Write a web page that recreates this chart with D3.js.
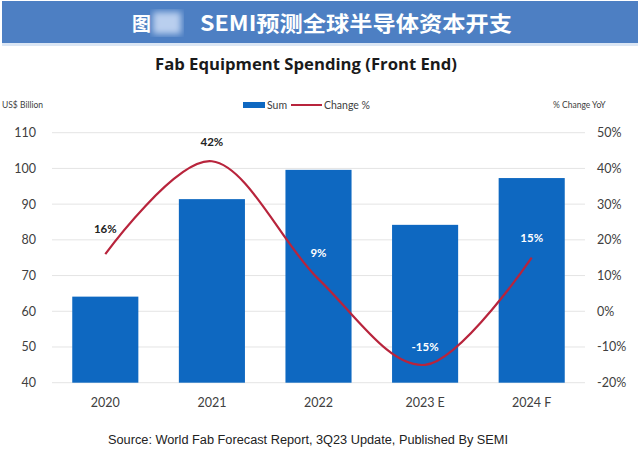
<!DOCTYPE html>
<html>
<head>
<meta charset="utf-8">
<script src="https://cdn.jsdelivr.net/npm/d3@7"></script>
<style>
html,body{margin:0;padding:0;background:#fff;}
svg{display:block;}
</style>
</head>
<body>
<svg id="chart" width="640" height="453"></svg>
<script>
const categories = ["2020", "2021", "2022", "2023 E", "2024 F"];
const spending = [64.1, 91.4, 99.6, 84.2, 97.3];
const changePct = [16, 42, 9, -15, 15];
const changeLabels = ["16%", "42%", "9%", "-15%", "15%"];
const leftTicks = [40, 50, 60, 70, 80, 90, 100, 110];
const rightTicks = [-20, -10, 0, 10, 20, 30, 40, 50];

const svg = d3.select("#chart");
const plot = {left: 52, right: 585, top: 132.7, bottom: 382.7};

// title bar
svg.append("rect").attr("x", 2).attr("y", 1).attr("width", 636).attr("height", 42)
  .attr("fill", "#4d7fc3");
svg.append("rect").attr("x", 2).attr("y", 43).attr("width", 636).attr("height", 3)
  .attr("fill", "#dbe6f4");
const defs = svg.append("defs");
defs.append("filter").attr("id", "blur").append("feGaussianBlur").attr("stdDeviation", 3);
svg.append("rect").attr("x", 153).attr("y", 12).attr("width", 28).attr("height", 22)
  .attr("fill", "#b9cfee").attr("filter", "url(#blur)");
svg.append("text").attr("x", 132).attr("y", 31)
  .attr("font-family", "Noto Sans CJK SC").attr("font-weight", "bold")
  .attr("font-size", 19).attr("fill", "#fff").text("图");
svg.append("text").attr("x", 200).attr("y", 31)
  .attr("font-family", "Noto Sans CJK SC").attr("font-weight", "bold")
  .attr("font-size", 21).attr("fill", "#fff")
  .attr("textLength", 312).attr("lengthAdjust", "spacingAndGlyphs")
  .text("SEMI预测全球半导体资本开支");

// chart title
svg.append("text").attr("x", 306).attr("y", 70).attr("text-anchor", "middle")
  .attr("font-family", "Open Sans").attr("font-weight", "bold")
  .attr("font-size", 16).attr("fill", "#1a1a1a")
  .attr("textLength", 302).attr("lengthAdjust", "spacingAndGlyphs")
  .text("Fab Equipment Spending (Front End)");

const x = d3.scaleBand().domain(categories).range([plot.left, plot.right]).paddingInner(0.38).paddingOuter(0.19);
const yL = d3.scaleLinear().domain([40, 110]).range([plot.bottom, plot.top]);
const yR = d3.scaleLinear().domain([-20, 50]).range([plot.bottom, plot.top]);

// gridlines
svg.append("g").selectAll("line").data(leftTicks).join("line")
  .attr("x1", plot.left).attr("x2", plot.right)
  .attr("y1", d => yL(d)).attr("y2", d => yL(d))
  .attr("stroke", "#e4e4e4").attr("stroke-width", 1);

// left axis
const axL = svg.append("g").attr("transform", `translate(${plot.left - 16},0)`)
  .call(d3.axisLeft(yL).tickValues(leftTicks).tickSize(0).tickPadding(0));
axL.select(".domain").remove();
axL.selectAll("text").attr("font-family", "Lato").attr("font-size", 12.5).attr("fill", "#404040");

// right axis
const axR = svg.append("g").attr("transform", `translate(${plot.right + 12},0)`)
  .call(d3.axisRight(yR).tickValues(rightTicks).tickSize(0).tickPadding(0).tickFormat(d => d + "%"));
axR.select(".domain").remove();
axR.selectAll("text").attr("font-family", "Lato").attr("font-size", 12.5).attr("fill", "#404040");

// axis titles
svg.append("text").attr("x", 2).attr("y", 108).attr("font-family", "Lato").attr("font-size", 8.5)
  .attr("fill", "#404040").text("US$ Billion");
svg.append("text").attr("x", 553).attr("y", 108).attr("font-family", "Lato").attr("font-size", 8.5)
  .attr("fill", "#404040").text("% Change YoY");

// bars
svg.append("g").selectAll("rect").data(spending).join("rect")
  .attr("x", (d, i) => x(categories[i]))
  .attr("width", x.bandwidth())
  .attr("y", d => yL(d))
  .attr("height", d => yL(40) - yL(d))
  .attr("fill", "#0e68c1");

// x labels
const axB = svg.append("g").attr("transform", `translate(0,${plot.bottom + 13})`)
  .call(d3.axisBottom(x).tickSize(0).tickPadding(0));
axB.select(".domain").remove();
axB.selectAll("text").attr("font-family", "Lato").attr("font-size", 12.5).attr("fill", "#404040")
  .attr("dy", "0.9em");

// line
const line = d3.line()
  .x((d, i) => x(categories[i]) + x.bandwidth() / 2)
  .y(d => yR(d))
  .curve(d3.curveCardinal.tension(0));
svg.append("path").datum(changePct).attr("d", line)
  .attr("fill", "none").attr("stroke", "#b8243c").attr("stroke-width", 2.2);

// data labels
const labelOffsets = [-21, -15, -22, -14, -16];
const labelColors = ["#222", "#222", "#fff", "#fff", "#fff"];
svg.append("g").selectAll("text").data(changePct).join("text")
  .attr("x", (d, i) => x(categories[i]) + x.bandwidth() / 2)
  .attr("y", (d, i) => yR(d) + labelOffsets[i])
  .attr("text-anchor", "middle")
  .attr("font-family", "Lato").attr("font-weight", "bold").attr("font-size", 11.5)
  .attr("fill", (d, i) => labelColors[i])
  .text((d, i) => changeLabels[i]);

// legend
const lg = svg.append("g");
lg.append("rect").attr("x", 243).attr("y", 102).attr("width", 22).attr("height", 6).attr("fill", "#0e68c1");
lg.append("text").attr("x", 267).attr("y", 109).attr("font-family", "Lato").attr("font-size", 10.5)
  .attr("fill", "#404040").text("Sum");
lg.append("line").attr("x1", 291).attr("x2", 322).attr("y1", 105).attr("y2", 105)
  .attr("stroke", "#b8243c").attr("stroke-width", 2);
lg.append("text").attr("x", 324).attr("y", 109).attr("font-family", "Lato").attr("font-size", 10.5)
  .attr("fill", "#404040").text("Change %");

// source
svg.append("text").attr("x", 308).attr("y", 444).attr("text-anchor", "middle")
  .attr("font-family", "Liberation Sans").attr("font-size", 12).attr("fill", "#222")
  .attr("textLength", 400).attr("lengthAdjust", "spacingAndGlyphs")
  .text("Source: World Fab Forecast Report, 3Q23 Update, Published By SEMI");
</script>
</body>
</html>
